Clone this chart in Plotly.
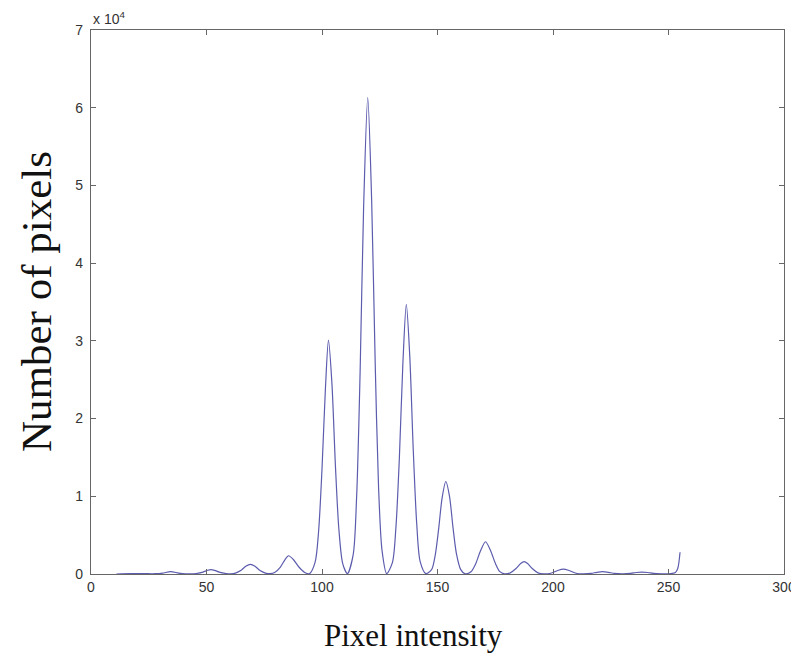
import plotly.graph_objects as go

# histogram (pixel intensity -> number of pixels)
intensity = [
    11, 17, 23, 28, 31, 34.5, 38, 41, 43,
    45.5, 48.5, 50.5, 52, 53.5, 55.5, 58.5, 60.5,
    62.5, 65, 67, 69, 71, 73, 75.5, 77.5,
    79.5, 82, 84, 85.5, 87.5, 90, 92.5, 94.5,
    97, 98.5, 100, 101.5, 102.8, 104.3, 105.8, 107.3, 109, 111,
    113.5, 115, 116.5, 118, 119.8, 121.5, 123, 124.5, 126, 128,
    130.5, 132, 133.5, 135, 136.5, 138, 139.5, 141, 142.5, 145,
    147.5, 149, 150.5, 152, 153.6, 155.2, 156.7, 158.2, 160, 162,
    164.5, 166.5, 168.5, 170.8, 173, 175, 177, 179,
    181.5, 184, 186, 187.5, 189, 191, 193.5, 196,
    199, 202, 204.5, 207, 210, 213,
    216.5, 219, 221.5, 224, 226.5, 230,
    233.5, 236, 238.5, 241, 243.5, 247,
    251, 253, 254, 255,
]
pixel_count = [
    0, 40, 40, 40, 120, 300, 120, 30, 20,
    60, 250, 480, 560, 470, 240, 60, 30,
    120, 480, 1000, 1250, 1000, 480, 120, 40,
    200, 900, 1850, 2350, 1900, 900, 200, 30,
    1500, 5400, 13500, 24000, 30100, 24500, 14000, 5800, 1300, 50,
    2500, 10000, 26000, 47000, 61300, 48000, 27500, 11000, 3000, 50,
    1500, 6000, 15000, 27000, 34700, 28000, 16000, 6500, 1600, 50,
    600, 2400, 5800, 9800, 11900, 10000, 6000, 2600, 600, 30,
    300, 1300, 2900, 4150, 3000, 1400, 300, 20,
    150, 700, 1350, 1600, 1350, 700, 150, 20,
    100, 450, 620, 450, 100, 20,
    80, 220, 300, 220, 80, 20,
    70, 190, 250, 190, 70, 10,
    40, 200, 700, 2800,
]

x_ticks = [0, 50, 100, 150, 200, 250, 300]
y_ticks = [0, 10000, 20000, 30000, 40000, 50000, 60000, 70000]
y_ticklabels = ["0", "1", "2", "3", "4", "5", "6", "7"]

fig = go.Figure()
fig.add_trace(go.Scatter(
    x=intensity, y=pixel_count, mode="lines",
    line=dict(color="#5c5cae", width=1.2, shape="spline", smoothing=0.8),
    hoverinfo="skip",
))

axis_style = dict(
    showline=True, linecolor="#666666", linewidth=1.3, mirror="ticks",
    ticks="inside", ticklen=5, tickcolor="#666666",
    showgrid=False, zeroline=False,
    tickfont=dict(family="Liberation Sans, Arial", size=14, color="#333333"),
)

fig.update_xaxes(range=[0, 300], tickvals=x_ticks, ticklabeloverflow="allow",
                 **axis_style)
fig.update_yaxes(range=[0, 70000], tickvals=y_ticks, ticktext=y_ticklabels,
                 ticklabelstandoff=4, **axis_style)

# page body has an 8px margin, so the figure is sized to fit inside the window
fig.update_layout(
    width=791, height=647,
    margin=dict(l=83, r=15, t=22, b=81, autoexpand=False),
    plot_bgcolor="white", paper_bgcolor="white",
    showlegend=False,
    annotations=[
        dict(text="x 10<sup>4</sup>", xref="paper", yref="paper", x=0, y=1,
             xanchor="left", yanchor="bottom", showarrow=False, yshift=1,
             font=dict(family="Liberation Sans, Arial", size=14, color="#333333")),
        dict(text="Pixel intensity", xref="paper", yref="paper", x=0.465, y=0,
             xanchor="center", yanchor="middle", showarrow=False, yshift=-61,
             font=dict(family="Liberation Serif, Times New Roman", size=31, color="#111111")),
        dict(text="Number of pixels", xref="paper", yref="paper", x=0, y=0.5,
             xanchor="center", yanchor="middle", showarrow=False, xshift=-55,
             textangle=-90,
             font=dict(family="Liberation Serif, Times New Roman", size=43, color="#111111")),
    ],
)

fig.write_html("out.html")
